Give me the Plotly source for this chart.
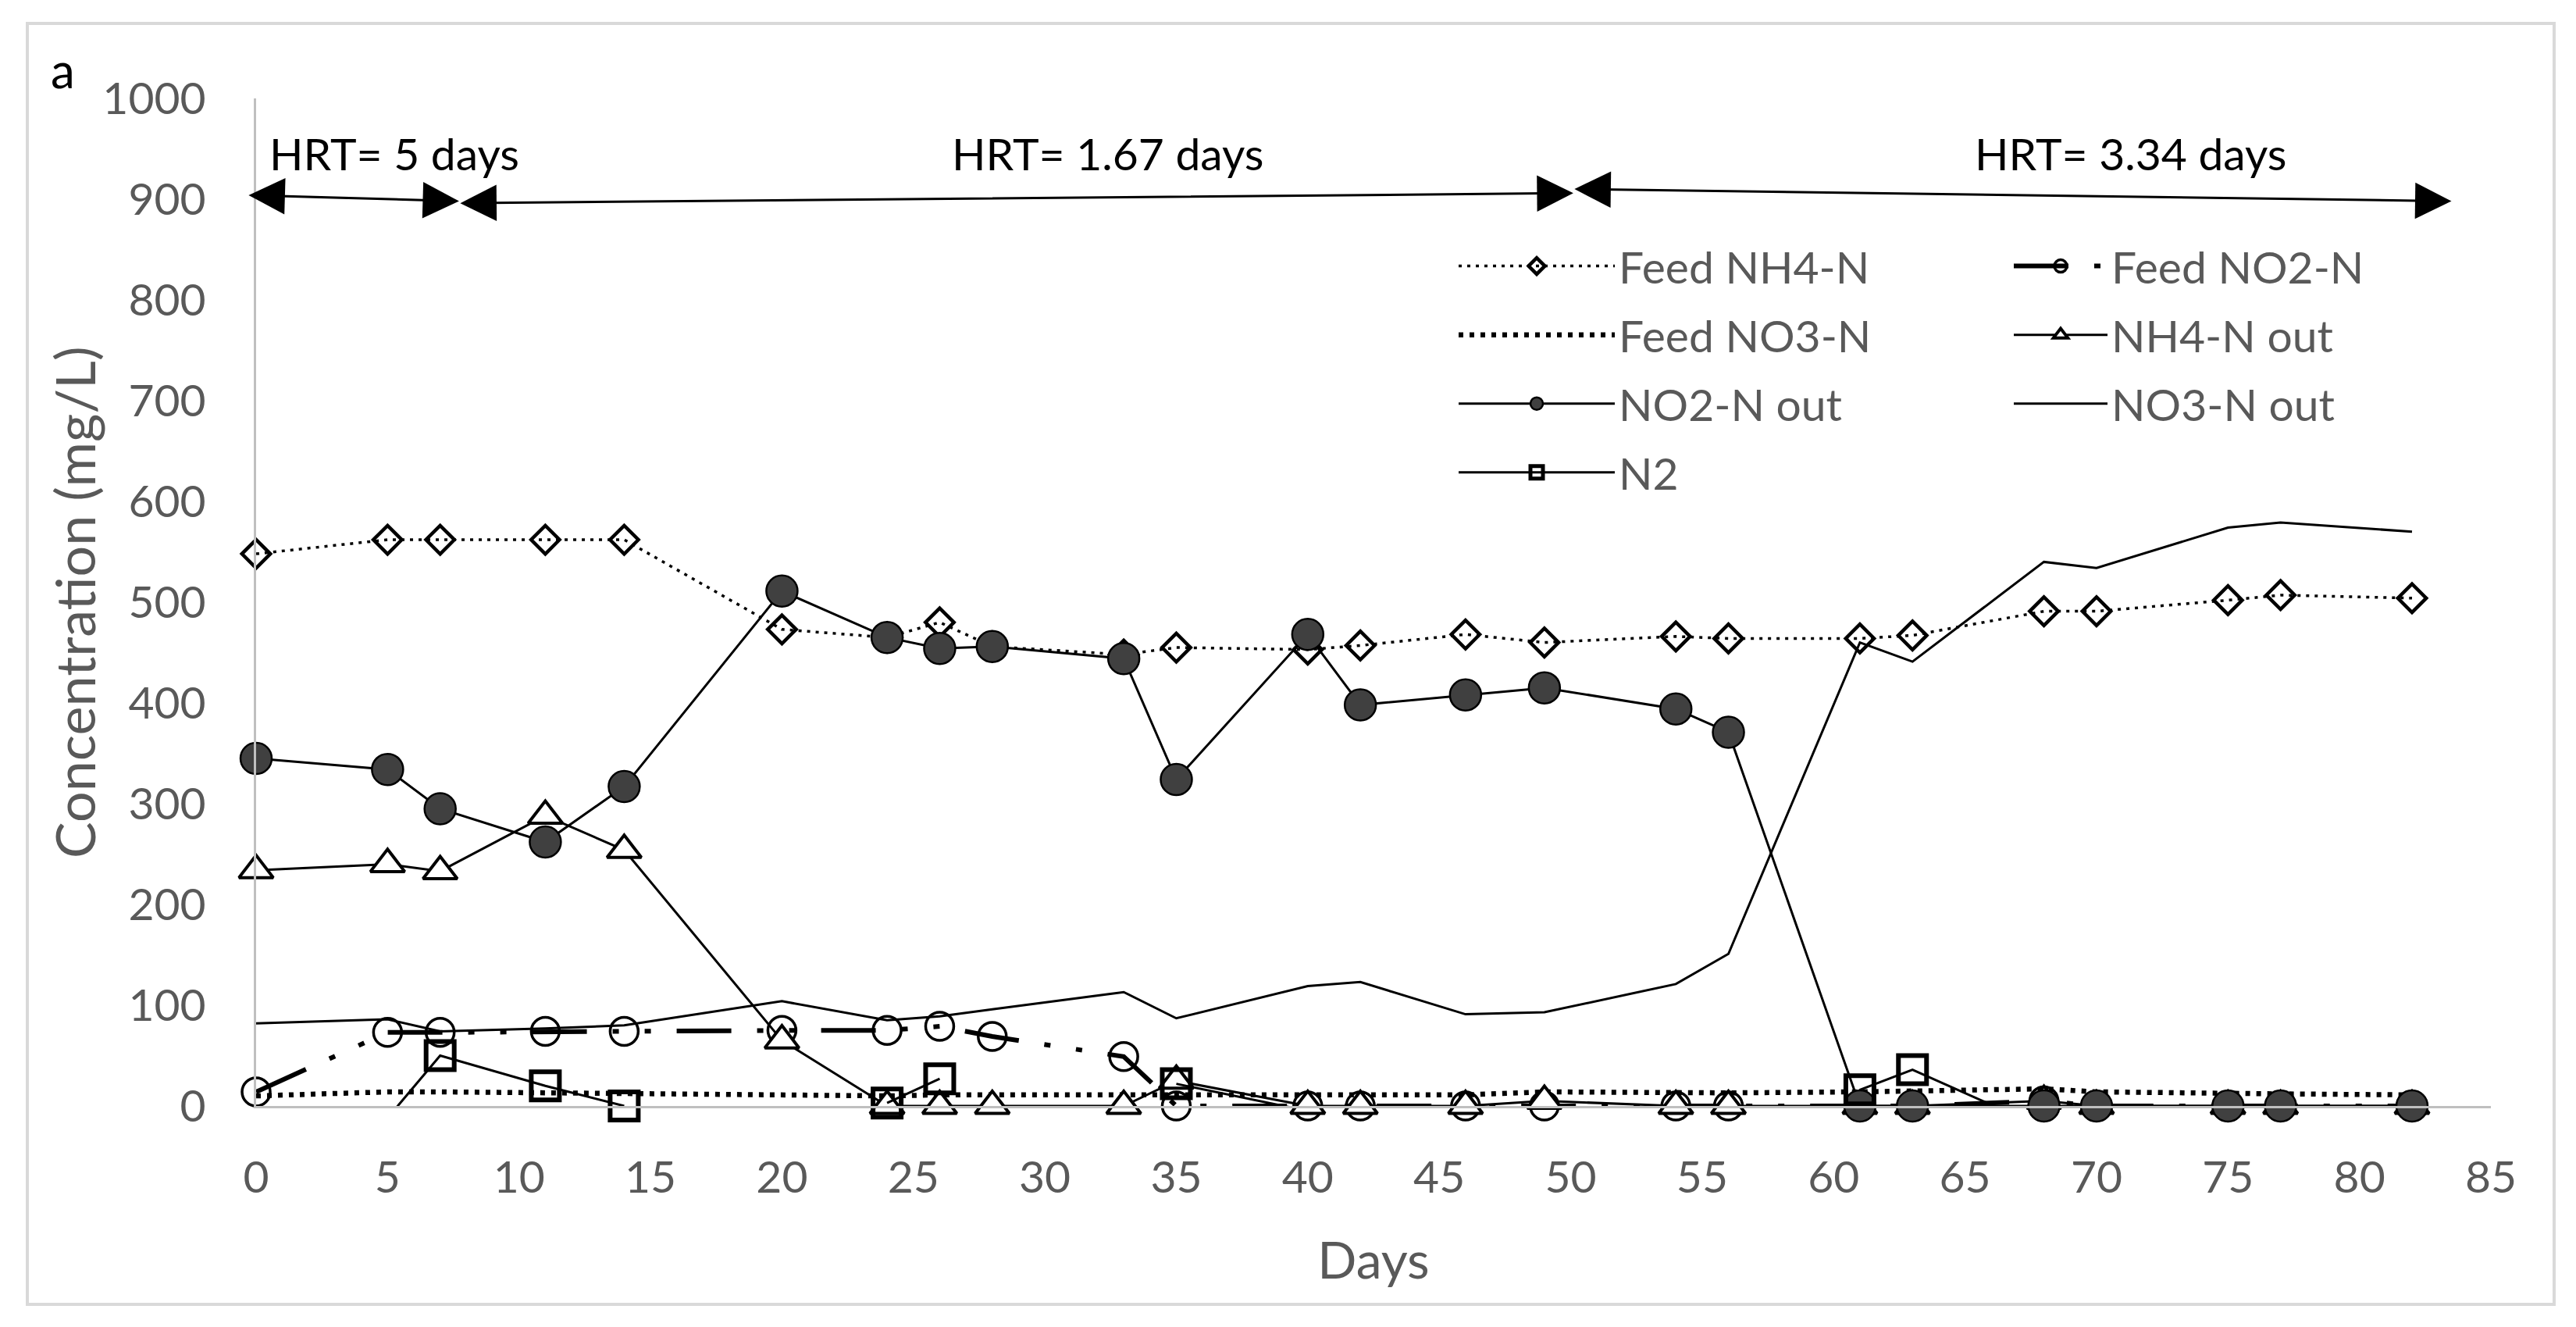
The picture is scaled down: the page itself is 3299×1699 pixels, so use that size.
import plotly.graph_objects as go

# sampling days
days = [0, 5, 7, 11, 14, 20, 24, 26, 28, 33, 35, 40, 42, 46, 49, 54, 56, 61, 63, 68, 70, 75, 77, 82]

# concentrations (mg/L)
feed_nh4 = [548, 562, 562, 562, 562, 473, 465, 480, 456, 448, 455, 453, 457, 468, 460, 466, 464, 464, 467, 491, 491, 502, 507, 504]
feed_no2 = [14, 73, 73, 74, 74, 75, 75, 79, 69, 49, 0, 0, 0, 0, 0, 0, 0, 0, 0, 5, 0, 0, 0, 0]
feed_no3 = [10, 14, 14, 13, 12, 11, 10, 11, 11, 12, 12, 12, 11, 11, 14, 13, 13, 14, 15, 17, 14, 12, 12, 11]
nh4_out = [234, 240, 233, 288, 254, 65, 0, 0, 0, 0, 25, 0, 0, 0, 5, 0, 0, 0, 0, 5, 0, 0, 0, 0]
no2_out = [345, 334, 295, 262, 317, 511, 465, 454, 456, 444, 324, 468, 398, 408, 415, 394, 371, 0, 0, 0, 0, 0, 0, 0]
no3_out = [82, 86, 74, 77, 80, 104, 85, 89, 96, 113, 87, 119, 123, 91, 93, 121, 151, 460, 441, 540, 534, 574, 579, 570]
# N2: None = no measurement; values below zero fall outside the axis and are not marked
n2_days = [5, 7, 11, 14, 20, 24, 26, 30, 35, 40, 50, 61, 63, 68]
n2 = [-12, 50, 20, 0, None, 3, 27, None, 22, -5, None, 16, 36, -22]

# HRT periods (arrows above the data)
hrt_labels = ["HRT= 5 days", "HRT= 1.67 days", "HRT= 3.34 days"]
hrt_label_x = [5.25, 32.4, 71.3]
hrt_start = [-0.33, 7.72, 50.1]
hrt_end = [7.72, 50.1, 83.5]
hrt_y_start = [904, 896, 910]
hrt_y_end = [898, 906, 898]

W, H = 3283, 1683
L, R, T, B = 320, 101, 118, 275
TICK_GRAY = "#595959"
FONT = "Lato"

fig = go.Figure()
fig.add_trace(go.Scatter(x=days, y=feed_nh4, name="Feed NH4-N", mode="lines+markers",
                         line=dict(color="black", width=3.5, dash="4px,7px"),
                         marker=dict(symbol="diamond-open", size=28, color="black", line=dict(width=4.5, color="black")),
                         legend="legend", legendgroup="a", cliponaxis=False))
fig.add_trace(go.Scatter(x=days, y=feed_no2, name="Feed NO2-N", mode="lines+markers",
                         line=dict(color="black", width=6, dash="70px,33px,8px,33px,8px,33px"),
                         marker=dict(symbol="circle-open", size=36, color="black", line=dict(width=3.5, color="black")),
                         legend="legend2", legendgroup="b", cliponaxis=False))
fig.add_trace(go.Scatter(x=days, y=feed_no3, name="Feed NO3-N", mode="lines",
                         line=dict(color="black", width=6.5, dash="6px,8px"),
                         legend="legend", legendgroup="c", cliponaxis=False))
fig.add_trace(go.Scatter(x=days, y=nh4_out, name="NH4-N out", mode="lines+markers",
                         line=dict(color="black", width=3),
                         marker=dict(symbol="triangle-up", size=38, color="white", line=dict(width=4, color="black")),
                         legend="legend2", legendgroup="d", cliponaxis=False))
fig.add_trace(go.Scatter(x=days, y=no2_out, name="NO2-N out", mode="lines+markers",
                         line=dict(color="black", width=3),
                         marker=dict(symbol="circle", size=40, color="#404040", line=dict(width=2.5, color="black")),
                         legend="legend", legendgroup="e", cliponaxis=False))
fig.add_trace(go.Scatter(x=days, y=no3_out, name="NO3-N out", mode="lines",
                         line=dict(color="black", width=3),
                         legend="legend2", legendgroup="f", cliponaxis=False))
fig.add_trace(go.Scatter(x=n2_days, y=n2, name="N2", mode="lines+markers",
                         line=dict(color="black", width=3),
                         marker=dict(symbol="square-open", size=36, color="black", line=dict(width=6, color="black")),
                         legend="legend", legendgroup="g", cliponaxis=False))

for lab, lx, x0, x1, y0, y1 in zip(hrt_labels, hrt_label_x, hrt_start, hrt_end, hrt_y_start, hrt_y_end):
    fig.add_annotation(x=x1, y=y1, ax=x0, ay=y0, xref="x", yref="y", axref="x", ayref="y",
                       text="", showarrow=True, arrowhead=2, startarrowhead=2, arrowside="end+start",
                       arrowsize=3.1, startarrowsize=3.1, arrowwidth=3, arrowcolor="black",
                       standoff=0, startstandoff=0)
    fig.add_annotation(x=lx, y=946, xref="x", yref="y", text=lab, showarrow=False,
                       font=dict(family=FONT, size=57, color="black"))

pw, ph = W - L - R, H - T - B
def px_x(p):
    return (p - L) / pw
def px_y(p):
    return (T + ph - p) / ph

fig.add_annotation(x=px_x(72), y=px_y(81), xref="paper", yref="paper", text="a", showarrow=False,
                   xanchor="center", yanchor="middle", font=dict(family=FONT, size=62, color="black"))
fig.add_annotation(x=px_x(87), y=0.5, xref="paper", yref="paper", text="Concentration (mg/L)",
                   textangle=-90, showarrow=False, xanchor="center", yanchor="middle",
                   font=dict(family=FONT, size=70, color=TICK_GRAY))
# chart area border
fig.add_shape(type="rect", xref="paper", yref="paper", x0=px_x(27), x1=px_x(3263), y0=px_y(1662), y1=px_y(22),
              line=dict(color="#d9d9d9", width=4), layer="below")

legend_common = dict(font=dict(family=FONT, size=57, color=TICK_GRAY), bgcolor="rgba(0,0,0,0)",
                     tracegroupgap=11, xanchor="left", yanchor="top", orientation="v")
fig.update_layout(
    width=W, height=H,
    margin=dict(l=L, r=R, t=T, b=B),
    plot_bgcolor="white", paper_bgcolor="white",
    font=dict(family=FONT, color=TICK_GRAY),
    legend=dict(x=px_x(1855), y=px_y(289), itemwidth=200, **legend_common),
    legend2=dict(x=px_x(2566), y=px_y(289), itemwidth=120, **legend_common),
    xaxis=dict(range=[0, 85], dtick=5, tick0=0, showgrid=False, zeroline=False,
               showline=True, linecolor="#bfbfbf", linewidth=3, ticks="",
               tickfont=dict(family=FONT, size=57, color=TICK_GRAY), ticklabelstandoff=40,
               title=dict(text="Days", font=dict(family=FONT, size=66, color=TICK_GRAY), standoff=53)),
    yaxis=dict(range=[0, 1000], dtick=100, tick0=0, showgrid=False, zeroline=False,
               showline=True, linecolor="#bfbfbf", linewidth=3, ticks="",
               tickfont=dict(family=FONT, size=57, color=TICK_GRAY), ticklabelstandoff=50),
)

fig.write_html("out.html")
